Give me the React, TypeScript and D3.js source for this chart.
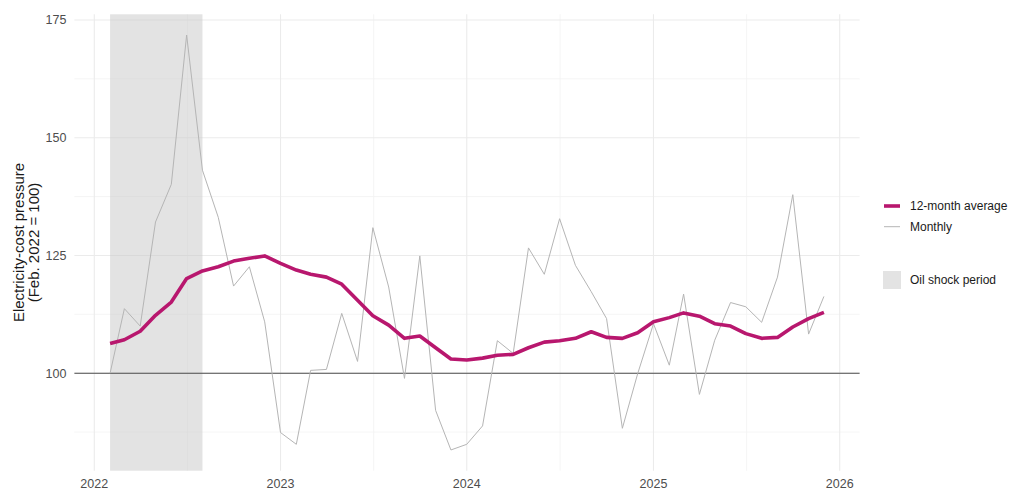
import * as d3 from "d3";
import { useEffect, useRef } from "react";

const WIDTH = 1024;
const HEIGHT = 500;

const MONTHS = [
    "2022-02", "2022-03", "2022-04", "2022-05", "2022-06", "2022-07", "2022-08", "2022-09", "2022-10", "2022-11", "2022-12",
    "2023-01", "2023-02", "2023-03", "2023-04", "2023-05", "2023-06", "2023-07", "2023-08", "2023-09", "2023-10", "2023-11", "2023-12",
    "2024-01", "2024-02", "2024-03", "2024-04", "2024-05", "2024-06", "2024-07", "2024-08", "2024-09", "2024-10", "2024-11", "2024-12",
    "2025-01", "2025-02", "2025-03", "2025-04", "2025-05", "2025-06", "2025-07", "2025-08", "2025-09", "2025-10", "2025-11", "2025-12",
];

// index, Feb. 2022 = 100
const MONTHLY = [
    100, 113.7, 110.0, 132.1, 140.1, 171.8, 143.1, 133.1, 118.5, 122.6, 110.9,
    87.4, 84.9, 100.6, 100.8, 112.7, 102.5, 130.9, 118.3, 98.9, 124.9, 92.1, 83.7,
    84.9, 88.8, 106.9, 104.2, 126.6, 121.0, 132.8, 122.9, 117.3, 111.6, 88.3, 99.9,
    110.5, 101.7, 116.8, 95.5, 107.0, 115.0, 114.1, 110.8, 120.4, 137.9, 108.3, 116.3,
];

const AVG_12M = [
    106.3, 107.1, 108.9, 112.3, 115.1, 120.1, 121.7, 122.6, 123.8, 124.4, 124.9,
    123.3, 121.9, 121.0, 120.4, 118.9, 115.5, 112.2, 110.2, 107.4, 107.9, 105.4, 103.0,
    102.8, 103.2, 103.8, 104.0, 105.4, 106.6, 106.9, 107.4, 108.8, 107.6, 107.4, 108.6,
    110.9, 111.8, 112.8, 112.1, 110.5, 110.0, 108.4, 107.4, 107.6, 109.8, 111.6, 112.9,
];

const YEAR_TICKS = ["2022", "2023", "2024", "2025", "2026"];
const Y_TICKS = [100, 125, 150, 175];
const SHOCK_PERIOD = ["2022-02", "2022-08"];
const BASELINE = 100;

const AVG_COLOR = "#b8176e";
const MONTHLY_COLOR = "#b5b5b5";
const FONT = "'Liberation Sans', Arial, sans-serif";

export default function App() {
    const svgRef = useRef<SVGSVGElement | null>(null);

    useEffect(() => {
        if (!svgRef.current) return;
        const svg = d3.select(svgRef.current);
        svg.selectAll("*").remove();

        const panel = { left: 74.4, right: 859.6, top: 14.3, bottom: 470.7 };
        const parseMonth = d3.utcParse("%Y-%m");
        const parseYear = d3.utcParse("%Y");
        const dates = MONTHS.map((m) => parseMonth(m) as Date);

        // ggplot-style 5% expansion on both axes
        const t0 = dates[0].getTime();
        const t1 = dates[dates.length - 1].getTime();
        const tPad = (t1 - t0) * 0.05;
        const x = d3.scaleUtc().domain([new Date(t0 - tPad), new Date(t1 + tPad)]).range([panel.left, panel.right]);

        const lo = d3.min(MONTHLY) ?? 0;
        const hi = d3.max(MONTHLY) ?? 0;
        const vPad = (hi - lo) * 0.05;
        const y = d3.scaleLinear().domain([lo - vPad, hi + vPad]).range([panel.bottom, panel.top]);

        const g = svg.append("g");

        // grid
        const yMinor = Y_TICKS.map((v, i) => (i === 0 ? v - 12.5 : (v + Y_TICKS[i - 1]) / 2));
        const yearDates = YEAR_TICKS.map((yr) => parseYear(yr) as Date);
        const xMinor = yearDates.slice(1).map((d, i) => new Date((d.getTime() + yearDates[i].getTime()) / 2));

        g.selectAll(".y-minor").data(yMinor).enter().append("line")
            .attr("x1", panel.left).attr("x2", panel.right)
            .attr("y1", (d) => y(d)).attr("y2", (d) => y(d))
            .attr("stroke", "#f2f2f2").attr("stroke-width", 0.8);
        g.selectAll(".x-minor").data(xMinor).enter().append("line")
            .attr("y1", panel.top).attr("y2", panel.bottom)
            .attr("x1", (d) => x(d)).attr("x2", (d) => x(d))
            .attr("stroke", "#f2f2f2").attr("stroke-width", 0.8);
        g.selectAll(".y-major").data(Y_TICKS).enter().append("line")
            .attr("x1", panel.left).attr("x2", panel.right)
            .attr("y1", (d) => y(d)).attr("y2", (d) => y(d))
            .attr("stroke", "#ebebeb").attr("stroke-width", 1.1);
        g.selectAll(".x-major").data(yearDates).enter().append("line")
            .attr("y1", panel.top).attr("y2", panel.bottom)
            .attr("x1", (d) => x(d)).attr("x2", (d) => x(d))
            .attr("stroke", "#ebebeb").attr("stroke-width", 1.1);

        // oil shock shading
        const [s0, s1] = SHOCK_PERIOD.map((m) => parseMonth(m) as Date);
        g.append("rect")
            .attr("x", x(s0)).attr("width", x(s1) - x(s0))
            .attr("y", panel.top).attr("height", panel.bottom - panel.top)
            .attr("fill", "#c8c8c8").attr("fill-opacity", 0.5);

        // baseline
        g.append("line")
            .attr("x1", panel.left).attr("x2", panel.right)
            .attr("y1", y(BASELINE)).attr("y2", y(BASELINE))
            .attr("stroke", "#4d4d4d").attr("stroke-width", 1.1);

        const line = d3.line<number>()
            .x((_, i) => x(dates[i]))
            .y((d) => y(d));

        g.append("path").datum(MONTHLY)
            .attr("fill", "none").attr("stroke", MONTHLY_COLOR).attr("stroke-width", 1)
            .attr("stroke-linejoin", "round").attr("d", line);
        g.append("path").datum(AVG_12M)
            .attr("fill", "none").attr("stroke", AVG_COLOR).attr("stroke-width", 3.6)
            .attr("stroke-linejoin", "round").attr("stroke-linecap", "butt").attr("d", line);

        // axes labels
        g.selectAll(".y-label").data(Y_TICKS).enter().append("text")
            .attr("x", panel.left - 8).attr("y", (d) => y(d)).attr("dy", "0.35em")
            .attr("text-anchor", "end").attr("font-size", 12.5).attr("fill", "#4d4d4d")
            .attr("font-family", FONT).text((d) => d);
        g.selectAll(".x-label").data(yearDates).enter().append("text")
            .attr("x", (d) => x(d)).attr("y", 488)
            .attr("text-anchor", "middle").attr("font-size", 12.5).attr("fill", "#4d4d4d")
            .attr("font-family", FONT).text((d) => d3.utcFormat("%Y")(d));

        const yMid = (panel.top + panel.bottom) / 2;
        const title = g.append("text")
            .attr("transform", `translate(0,${yMid}) rotate(-90)`)
            .attr("text-anchor", "middle").attr("font-size", 15).attr("fill", "#1a1a1a")
            .attr("font-family", FONT);
        title.append("tspan").attr("x", 0).attr("y", 23.5).text("Electricity-cost pressure");
        title.append("tspan").attr("x", 0).attr("y", 38.5).text("(Feb. 2022 = 100)");

        // legend
        const legend = g.append("g").attr("font-family", FONT).attr("font-size", 12).attr("fill", "#1a1a1a");
        legend.append("line").attr("x1", 884).attr("x2", 900).attr("y1", 206).attr("y2", 206)
            .attr("stroke", AVG_COLOR).attr("stroke-width", 3.6);
        legend.append("text").attr("x", 910).attr("y", 206).attr("dy", "0.35em").text("12-month average");
        legend.append("line").attr("x1", 884).attr("x2", 900).attr("y1", 226.7).attr("y2", 226.7)
            .attr("stroke", MONTHLY_COLOR).attr("stroke-width", 1);
        legend.append("text").attr("x", 910).attr("y", 226.7).attr("dy", "0.35em").text("Monthly");
        legend.append("rect").attr("x", 883).attr("y", 271).attr("width", 18).attr("height", 18)
            .attr("fill", "#c8c8c8").attr("fill-opacity", 0.5);
        legend.append("text").attr("x", 910).attr("y", 280).attr("dy", "0.35em").text("Oil shock period");

        return () => { svg.selectAll("*").remove(); };
    }, []);

    return (
        <div style={{ position: "absolute", left: 0, top: 0 }}>
            <svg ref={svgRef} width={WIDTH} height={HEIGHT} style={{ display: "block", background: "#fff" }} />
        </div>
    );
}
